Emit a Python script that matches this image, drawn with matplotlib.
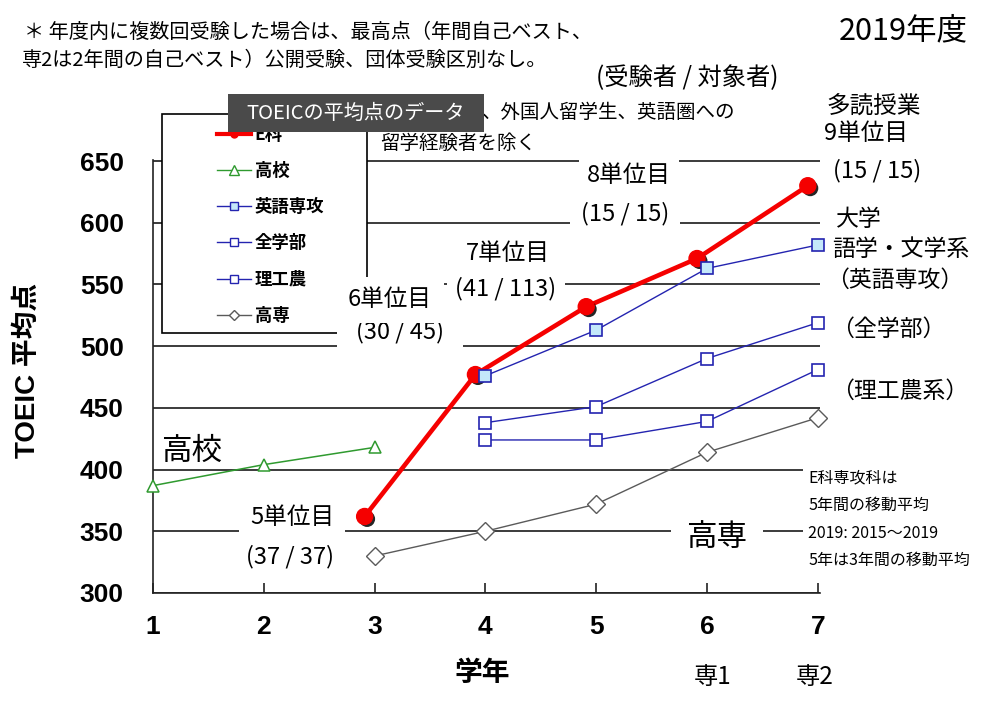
import matplotlib
matplotlib.use('Agg')
import matplotlib.pyplot as plt
import matplotlib.patheffects as pe
from matplotlib.lines import Line2D
from matplotlib.patches import Rectangle

plt.rcParams['font.family'] = ['Noto Sans CJK JP', 'DejaVu Sans']
TICK_FONT = ['Liberation Sans', 'Noto Sans CJK JP']

W, H = 996, 706

# data
yticks = [300, 350, 400, 450, 500, 550, 600, 650]
xticks = [1, 2, 3, 4, 5, 6, 7]

e_grades = [3, 4, 5, 6, 7]
e_scores = [362, 477, 532, 571, 630]
koukou_grades = [1, 2, 3]
koukou_scores = [387, 404, 418]
univ_grades = [4, 5, 6, 7]
eigo_scores = [476, 513, 563, 582]
zengaku_scores = [438, 451, 490, 519]
rikou_scores = [424, 424, 439, 481]
kosen_grades = [3, 4, 5, 6, 7]
kosen_scores = [330, 350, 372, 414, 442]

legend_labels = ['E科', '高校', '英語専攻', '全学部', '理工農', '高専']

RED = '#f50000'
GREEN = '#2f9a2f'
BLUE = '#2424b0'
LIGHTBLUE = '#c4e8fa'
GRAY = '#5a5a5a'
E_SHIFT = -0.09  # red points sit a little left of the grade


def fx(x):
    return x / W


def fy(y):
    return 1 - y / H


def label(x, y, s, size, ha='center', box=None, **kw):
    bbox = None
    if box is not None:
        bbox = dict(boxstyle=f'square,pad={box}', fc='white', ec='none')
    return fig.text(fx(x), fy(y), s, fontsize=size, ha=ha, va='center',
                    bbox=bbox, **kw)


fig = plt.figure(figsize=(W / 100, H / 100), dpi=100)
ax = fig.add_axes([fx(153), fy(593), (820 - 153) / W, (593 - 159.8) / H])
ax.set_xlim(1, 7.02)
ax.set_ylim(300, 651)

ax.set_yticks(yticks)
ax.set_xticks(xticks)
ax.grid(axis='y', color='#1a1a1a', lw=1.2)
ax.set_axisbelow(True)
for side in ['top', 'right']:
    ax.spines[side].set_visible(False)
for side in ['left', 'bottom']:
    ax.spines[side].set_linewidth(1.2)
    ax.spines[side].set_color('#222222')
ax.tick_params(axis='x', direction='in', length=7, width=1.2, pad=16,
               labelsize=19, color='#222222')
ax.tick_params(axis='y', length=0, pad=21, labelsize=19)
for t in ax.get_xticklabels() + ax.get_yticklabels():
    t.set_family(TICK_FONT)
    t.set_fontweight('bold')

# series
ax.plot(koukou_grades, koukou_scores, color=GREEN, lw=1.1, marker='^', ms=9,
        mfc='white', mec=GREEN, mew=1.1, clip_on=False, zorder=3)
ax.plot(kosen_grades, kosen_scores, color=GRAY, lw=1.0, marker='D', ms=9,
        mfc='white', mec=GRAY, mew=1.0, clip_on=False, zorder=3)
e_x = [g + E_SHIFT for g in e_grades]
ax.plot(e_x, e_scores, color=RED, lw=3.3, zorder=3, solid_capstyle='round')
ax.plot(e_x, e_scores, ls='none', marker='o', ms=11.5, mfc=RED, mec=RED,
        zorder=3.5, clip_on=False,
        path_effects=[pe.SimplePatchShadow(offset=(1.8, -1.8),
                                           shadow_rgbFace='black', alpha=0.85),
                      pe.Normal()])
for scores, fill in [(rikou_scores, 'white'), (zengaku_scores, 'white'),
                     (eigo_scores, LIGHTBLUE)]:
    ax.plot(univ_grades, scores, color=BLUE, lw=1.0, marker='s', ms=9,
            mfc=fill, mec=BLUE, mew=1.2, clip_on=False, zorder=4)

# legend box
fig.add_artist(Rectangle((fx(162), fy(333)), 205 / W, 219 / H,
                         transform=fig.transFigure, fc='white', ec='black',
                         lw=1.2, zorder=1))
handles = [
    Line2D([], [], color=RED, lw=3, marker='o', ms=5),
    Line2D([], [], color=GREEN, lw=1, marker='^', ms=7, mfc='white', mec=GREEN),
    Line2D([], [], color=BLUE, lw=1, marker='s', ms=6, mfc=LIGHTBLUE, mec=BLUE),
    Line2D([], [], color=BLUE, lw=1, marker='s', ms=6, mfc='white', mec=BLUE),
    Line2D([], [], color=BLUE, lw=1, marker='s', ms=6, mfc='white', mec=BLUE),
    Line2D([], [], color=GRAY, lw=1, marker='D', ms=5, mfc='white', mec=GRAY),
]
fig.legend(handles, legend_labels, loc='upper left',
           bbox_to_anchor=(fx(208), fy(117)), frameon=False, borderpad=0,
           labelspacing=1.05, handlelength=2.0, handletextpad=0.2,
           prop={'weight': 'bold', 'size': 12.5,
                 'family': ['Noto Sans CJK JP', 'DejaVu Sans']})

# tooltip
fig.add_artist(Rectangle((fx(228), fy(132)), 256 / W, 38 / H,
                         transform=fig.transFigure, fc='#4a4a4a', ec='none',
                         zorder=20))
t = label(356, 113, 'TOEICの平均点のデータ', 14.5, color='white')
t.set_zorder(21)

# header notes
label(24, 32, '＊ 年度内に複数回受験した場合は、最高点（年間自己ベスト、', 14.5, ha='left')
label(22, 60, '専2は2年間の自己ベスト）公開受験、団体受験区別なし。', 14.5, ha='left')
label(903, 31, '2019年度', 22)
label(687, 78, '(受験者 / 対象者)', 17.5)
label(482, 112, '、外国人留学生、英語圏への', 14, ha='left')
label(380, 143, '留学経験者を除く', 14, ha='left')

# right side labels
label(826, 106, '多読授業', 17, ha='left')
label(824, 133, '9単位目', 17, ha='left')
label(833, 171, '(15 / 15)', 17, ha='left')
label(836, 219, '大学', 16.5, ha='left')
label(832, 250, '語学・文学系', 16.5, ha='left')
label(826, 280, '（英語専攻）', 16.5, ha='left')
label(831, 329, '（全学部）', 16.5, ha='left')
label(831, 391, '（理工農系）', 16.5, ha='left')

# unit labels (lower line first so the upper box does not hide it)
label(625, 214, '(15 / 15)', 17, box=0.45)
label(629, 175, '8単位目', 17, box=0.35)
label(506, 289, '(41 / 113)', 17, box=0.35)
label(508, 254, '7単位目', 17, box=0.3)
label(400, 332, '(30 / 45)', 17, box=0.8)
label(390, 300, '6単位目', 17, box=0.5)
label(290, 557, '(37 / 37)', 17)
label(292, 518, '5単位目', 17, box=0.45)
label(717, 537, '高専', 22, box=0.5)
label(192, 451, '高校', 22)

# moving-average note
notes = ['E科専攻科は', '5年間の移動平均', '2019: 2015～2019', '5年は3年間の移動平均']
for i, s in enumerate(notes):
    label(808, 478 + 27.5 * i, s, 11.5, ha='left', box=0.3)

# axis titles
fig.text(fx(28), fy(370), 'TOEIC 平均点', rotation=90, ha='center', va='center',
         fontsize=20, fontweight='bold', family=TICK_FONT)
label(482, 673, '学年', 20, fontweight='bold')
label(713, 677, '専1', 17.5)
label(815, 677, '専2', 17.5)

fig.savefig('out.png', dpi=100, facecolor='white')
